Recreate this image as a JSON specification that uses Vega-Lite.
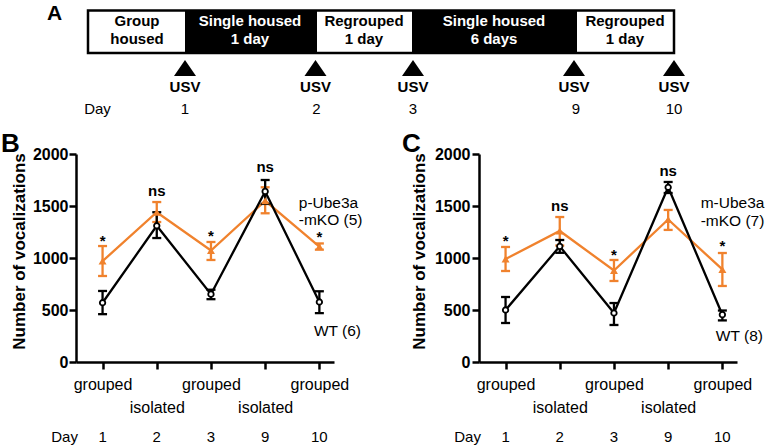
{
  "$schema": "https://vega.github.io/schema/vega-lite/v6.json",
  "background": "white",
  "padding": 0,
  "bounds": "flush",
  "spacing": 20,
  "config": {
    "view": {"stroke": null},
    "font": "Liberation Sans",
    "axis": {"domainColor": "black", "tickColor": "black", "labelColor": "black", "titleColor": "black", "domainWidth": 2.5, "tickWidth": 2.5, "tickSize": 7, "grid": false}
  },
  "datasets": {
    "segments": [
      {"phase": "Group housed", "l1": "Group", "l2": "housed", "housing": "group", "start": 0, "end": 97, "mid": 49},
      {"phase": "Single housed 1 day", "l1": "Single housed", "l2": "1 day", "housing": "single", "start": 97, "end": 229, "mid": 162},
      {"phase": "Regrouped 1 day", "l1": "Regrouped", "l2": "1 day", "housing": "group", "start": 229, "end": 324, "mid": 276},
      {"phase": "Single housed 6 days", "l1": "Single housed", "l2": "6 days", "housing": "single", "start": 324, "end": 489, "mid": 406},
      {"phase": "Regrouped 1 day", "l1": "Regrouped", "l2": "1 day", "housing": "group", "start": 489, "end": 586, "mid": 537}
    ],
    "events": [
      {"day": "1", "pos": 97},
      {"day": "2", "pos": 227.5},
      {"day": "3", "pos": 325},
      {"day": "9", "pos": 486},
      {"day": "10", "pos": 586}
    ],
    "a_days": [
      {"label": "Day", "pos": 9.5},
      {"label": "1", "pos": 97},
      {"label": "2", "pos": 228.5},
      {"label": "3", "pos": 325},
      {"label": "9", "pos": 488},
      {"label": "10", "pos": 586}
    ],
    "a_panel": [{"label": "A", "pos": -41, "y": 19.5}],
    "b_panel": [{"label": "B", "pos": -0.874, "y": 2019}],
    "c_panel": [{"label": "C", "pos": -0.911, "y": 2019}],
    "b_data": [
      {"pos": 1, "day": 1, "geno": "WT", "mean": 570, "lo": 460, "hi": 683},
      {"pos": 2, "day": 2, "geno": "WT", "mean": 1310, "lo": 1192, "hi": 1440},
      {"pos": 3, "day": 3, "geno": "WT", "mean": 652, "lo": 604, "hi": 695},
      {"pos": 4, "day": 9, "geno": "WT", "mean": 1640, "lo": 1520, "hi": 1750},
      {"pos": 5, "day": 10, "geno": "WT", "mean": 577, "lo": 470, "hi": 680},
      {"pos": 1, "day": 1, "geno": "KO", "mean": 970, "lo": 827, "hi": 1115},
      {"pos": 2, "day": 2, "geno": "KO", "mean": 1440, "lo": 1346, "hi": 1538},
      {"pos": 3, "day": 3, "geno": "KO", "mean": 1072, "lo": 981, "hi": 1154},
      {"pos": 4, "day": 9, "geno": "KO", "mean": 1550, "lo": 1430, "hi": 1680},
      {"pos": 5, "day": 10, "geno": "KO", "mean": 1110, "lo": 1080, "hi": 1140}
    ],
    "b_sig": [
      {"pos": 1, "y": 1166, "label": "*"},
      {"pos": 2, "y": 1644, "label": "ns"},
      {"pos": 3, "y": 1214, "label": "*"},
      {"pos": 4, "y": 1875, "label": "ns"},
      {"pos": 5, "y": 1205, "label": "*"}
    ],
    "b_legend": [
      {"pos": 4.62, "y": 1529, "label": "p-Ube3a"},
      {"pos": 4.62, "y": 1365, "label": "-mKO (5)"},
      {"pos": 4.9, "y": 298, "label": "WT (6)"}
    ],
    "c_data": [
      {"pos": 1, "day": 1, "geno": "WT", "mean": 500, "lo": 375, "hi": 625},
      {"pos": 2, "day": 2, "geno": "WT", "mean": 1112, "lo": 1050, "hi": 1173},
      {"pos": 3, "day": 3, "geno": "WT", "mean": 471, "lo": 356, "hi": 567},
      {"pos": 4, "day": 9, "geno": "WT", "mean": 1680, "lo": 1625, "hi": 1731},
      {"pos": 5, "day": 10, "geno": "WT", "mean": 455, "lo": 400, "hi": 495},
      {"pos": 1, "day": 1, "geno": "KO", "mean": 990, "lo": 875, "hi": 1106},
      {"pos": 2, "day": 2, "geno": "KO", "mean": 1260, "lo": 1120, "hi": 1394},
      {"pos": 3, "day": 3, "geno": "KO", "mean": 880, "lo": 779, "hi": 981},
      {"pos": 4, "day": 9, "geno": "KO", "mean": 1370, "lo": 1270, "hi": 1462},
      {"pos": 5, "day": 10, "geno": "KO", "mean": 890, "lo": 731, "hi": 1048}
    ],
    "c_sig": [
      {"pos": 1, "y": 1166, "label": "*"},
      {"pos": 2, "y": 1500, "label": "ns"},
      {"pos": 3, "y": 1032, "label": "*"},
      {"pos": 4, "y": 1837, "label": "ns"},
      {"pos": 5, "y": 1118, "label": "*"}
    ],
    "c_legend": [
      {"pos": 4.6, "y": 1529, "label": "m-Ube3a"},
      {"pos": 4.6, "y": 1356, "label": "-mKO (7)"},
      {"pos": 4.88, "y": 250, "label": "WT (8)"}
    ],
    "days": [
      {"pos": 0.3, "label": "Day"},
      {"pos": 1, "label": "1"},
      {"pos": 2, "label": "2"},
      {"pos": 3, "label": "3"},
      {"pos": 4, "label": "9"},
      {"pos": 5, "label": "10"}
    ]
  },
  "vconcat": [
    {
      "width": 612,
      "height": 134,
      "resolve": {"scale": {"fill": "independent", "color": "independent"}},
      "layer": [
        {
          "data": {"name": "segments"},
          "mark": {"type": "rect"},
          "encoding": {
            "x": {"field": "start", "type": "quantitative", "scale": {"domain": [-12, 600], "nice": false, "zero": false}, "axis": null},
            "x2": {"field": "end"},
            "y": {"datum": 10.5, "type": "quantitative", "scale": {"domain": [0, 134], "reverse": true, "nice": false, "zero": false}, "axis": null},
            "y2": {"datum": 53},
            "fill": {"field": "housing", "type": "nominal", "scale": {"domain": ["group", "single"], "range": ["white", "black"]}, "legend": null}
          }
        },
        {
          "data": {"name": "segments"},
          "mark": {"type": "rect", "filled": false, "color": "black", "strokeWidth": 2.5},
          "encoding": {
            "x": {"aggregate": "min", "field": "start", "type": "quantitative", "axis": null},
            "x2": {"aggregate": "max", "field": "end"},
            "y": {"datum": 10.5, "type": "quantitative", "axis": null},
            "y2": {"datum": 53}
          }
        },
        {
          "data": {"name": "segments"},
          "mark": {"type": "text", "fontSize": 15, "fontWeight": "bold", "align": "center", "baseline": "middle"},
          "encoding": {
            "x": {"field": "mid", "type": "quantitative", "axis": null},
            "y": {"datum": 21, "type": "quantitative", "axis": null},
            "text": {"field": "l1"},
            "color": {"field": "housing", "type": "nominal", "scale": {"domain": ["group", "single"], "range": ["black", "white"]}, "legend": null}
          }
        },
        {
          "data": {"name": "segments"},
          "mark": {"type": "text", "fontSize": 15, "fontWeight": "bold", "align": "center", "baseline": "middle"},
          "encoding": {
            "x": {"field": "mid", "type": "quantitative", "axis": null},
            "y": {"datum": 38.5, "type": "quantitative", "axis": null},
            "text": {"field": "l2"},
            "color": {"field": "housing", "type": "nominal", "scale": {"domain": ["group", "single"], "range": ["black", "white"]}, "legend": null}
          }
        },
        {
          "data": {"name": "events"},
          "mark": {"type": "point", "shape": "M0,-0.73L1,0.73L-1,0.73Z", "size": 484, "filled": true, "color": "black", "opacity": 1, "strokeWidth": 0},
          "encoding": {
            "x": {"field": "pos", "type": "quantitative", "axis": null},
            "y": {"datum": 68, "type": "quantitative", "axis": null}
          }
        },
        {
          "data": {"name": "events"},
          "mark": {"type": "text", "text": "USV", "fontSize": 15, "fontWeight": "bold", "align": "center", "baseline": "middle", "color": "black"},
          "encoding": {
            "x": {"field": "pos", "type": "quantitative", "axis": null},
            "y": {"datum": 86.5, "type": "quantitative", "axis": null}
          }
        },
        {
          "data": {"name": "a_days"},
          "mark": {"type": "text", "fontSize": 15, "align": "center", "baseline": "middle", "color": "black"},
          "encoding": {
            "x": {"field": "pos", "type": "quantitative", "axis": null},
            "y": {"datum": 108.5, "type": "quantitative", "axis": null},
            "text": {"field": "label"}
          }
        },
        {
          "data": {"name": "a_panel"},
          "mark": {"type": "text", "fontSize": 21, "fontWeight": "bold", "align": "left", "baseline": "alphabetic", "color": "black"},
          "encoding": {
            "x": {"field": "pos", "type": "quantitative", "axis": null},
            "y": {"field": "y", "type": "quantitative", "axis": null},
            "text": {"field": "label"}
          }
        }
      ]
    },
    {
      "hconcat": [
        {
          "width": 258,
          "height": 208,
          "layer": [
            {
              "data": {"name": "b_data"},
              "transform": [{"filter": "datum.geno == 'KO'"}],
              "mark": {"type": "rule", "color": "#F0822D", "strokeWidth": 2.3},
              "encoding": {
                "x": {"field": "pos", "type": "quantitative", "scale": {"domain": [0.51, 5.27], "nice": false, "zero": false},
                  "axis": {"values": [1, 2, 3, 4, 5], "title": null, "labelExpr": "datum.value % 2 == 1 ? 'grouped' : ['', 'isolated']", "labelLineHeight": 23, "labelFontSize": 16, "labelFontWeight": "normal", "labelPadding": 7, "labelOverlap": false, "labelBound": false, "labelFlush": false, "labelAngle": 0}},
                "y": {"field": "lo", "type": "quantitative", "scale": {"domain": [0, 2000], "nice": false},
                  "axis": {"values": [0, 500, 1000, 1500, 2000], "format": "d", "title": "Number of vocalizations", "titleFontSize": 17, "titleFontWeight": "bold", "titlePadding": 4, "titleY": 97, "labelFontSize": 16, "labelFontWeight": "bold", "labelPadding": 1}},
                "y2": {"field": "hi"}
              }
            },
            {
              "data": {"name": "b_data"},
              "transform": [{"filter": "datum.geno == 'KO'"}],
              "mark": {"type": "tick", "orient": "horizontal", "color": "#F0822D", "size": 9, "thickness": 2.3, "opacity": 1},
              "encoding": {"x": {"field": "pos", "type": "quantitative"}, "y": {"field": "lo", "type": "quantitative"}}
            },
            {
              "data": {"name": "b_data"},
              "transform": [{"filter": "datum.geno == 'KO'"}],
              "mark": {"type": "tick", "orient": "horizontal", "color": "#F0822D", "size": 9, "thickness": 2.3, "opacity": 1},
              "encoding": {"x": {"field": "pos", "type": "quantitative"}, "y": {"field": "hi", "type": "quantitative"}}
            },
            {
              "data": {"name": "b_data"},
              "transform": [{"filter": "datum.geno == 'KO'"}],
              "mark": {"type": "line", "color": "#F0822D", "strokeWidth": 2.3},
              "encoding": {"x": {"field": "pos", "type": "quantitative"}, "y": {"field": "mean", "type": "quantitative"}}
            },
            {
              "data": {"name": "b_data"},
              "transform": [{"filter": "datum.geno == 'WT'"}],
              "mark": {"type": "rule", "color": "black", "strokeWidth": 2.3},
              "encoding": {"x": {"field": "pos", "type": "quantitative"}, "y": {"field": "lo", "type": "quantitative"}, "y2": {"field": "hi"}}
            },
            {
              "data": {"name": "b_data"},
              "transform": [{"filter": "datum.geno == 'WT'"}],
              "mark": {"type": "tick", "orient": "horizontal", "color": "black", "size": 9, "thickness": 2.3, "opacity": 1},
              "encoding": {"x": {"field": "pos", "type": "quantitative"}, "y": {"field": "lo", "type": "quantitative"}}
            },
            {
              "data": {"name": "b_data"},
              "transform": [{"filter": "datum.geno == 'WT'"}],
              "mark": {"type": "tick", "orient": "horizontal", "color": "black", "size": 9, "thickness": 2.3, "opacity": 1},
              "encoding": {"x": {"field": "pos", "type": "quantitative"}, "y": {"field": "hi", "type": "quantitative"}}
            },
            {
              "data": {"name": "b_data"},
              "transform": [{"filter": "datum.geno == 'WT'"}],
              "mark": {"type": "line", "color": "black", "strokeWidth": 2.3},
              "encoding": {"x": {"field": "pos", "type": "quantitative"}, "y": {"field": "mean", "type": "quantitative"}}
            },
            {
              "data": {"name": "b_data"},
              "transform": [{"filter": "datum.geno == 'WT'"}],
              "mark": {"type": "point", "shape": "circle", "size": 30, "filled": true, "fill": "white", "stroke": "black", "strokeWidth": 1.8, "opacity": 1},
              "encoding": {"x": {"field": "pos", "type": "quantitative"}, "y": {"field": "mean", "type": "quantitative"}}
            },
            {
              "data": {"name": "b_data"},
              "transform": [{"filter": "datum.geno == 'KO'"}],
              "mark": {"type": "point", "shape": "triangle-up", "size": 64, "filled": true, "color": "#F0822D", "opacity": 1},
              "encoding": {"x": {"field": "pos", "type": "quantitative"}, "y": {"field": "mean", "type": "quantitative"}}
            },
            {
              "data": {"name": "b_sig"},
              "mark": {"type": "text", "fontSize": 15, "fontWeight": "bold", "align": "center", "baseline": "middle", "color": "black"},
              "encoding": {"x": {"field": "pos", "type": "quantitative"}, "y": {"field": "y", "type": "quantitative"}, "text": {"field": "label"}}
            },
            {
              "data": {"name": "b_legend"},
              "mark": {"type": "text", "fontSize": 15.5, "align": "left", "baseline": "middle", "color": "black"},
              "encoding": {"x": {"field": "pos", "type": "quantitative"}, "y": {"field": "y", "type": "quantitative"}, "text": {"field": "label"}}
            },
            {
              "data": {"name": "days"},
              "mark": {"type": "text", "fontSize": 15, "align": "center", "baseline": "alphabetic", "yOffset": 80.4, "color": "black"},
              "encoding": {"x": {"field": "pos", "type": "quantitative"}, "y": {"datum": 0, "type": "quantitative"}, "text": {"field": "label"}}
            },
            {
              "data": {"name": "b_panel"},
              "mark": {"type": "text", "fontSize": 26, "fontWeight": "bold", "align": "left", "baseline": "alphabetic", "color": "black"},
              "encoding": {"x": {"field": "pos", "type": "quantitative"}, "y": {"field": "y", "type": "quantitative"}, "text": {"field": "label"}}
            }
          ]
        },
        {
          "width": 258,
          "height": 208,
          "layer": [
            {
              "data": {"name": "c_data"},
              "transform": [{"filter": "datum.geno == 'KO'"}],
              "mark": {"type": "rule", "color": "#F0822D", "strokeWidth": 2.3},
              "encoding": {
                "x": {"field": "pos", "type": "quantitative", "scale": {"domain": [0.51, 5.27], "nice": false, "zero": false},
                  "axis": {"values": [1, 2, 3, 4, 5], "title": null, "labelExpr": "datum.value % 2 == 1 ? 'grouped' : ['', 'isolated']", "labelLineHeight": 23, "labelFontSize": 16, "labelFontWeight": "normal", "labelPadding": 7, "labelOverlap": false, "labelBound": false, "labelFlush": false, "labelAngle": 0}},
                "y": {"field": "lo", "type": "quantitative", "scale": {"domain": [0, 2000], "nice": false},
                  "axis": {"values": [0, 500, 1000, 1500, 2000], "format": "d", "title": "Number of vocalizations", "titleFontSize": 17, "titleFontWeight": "bold", "titlePadding": 6, "titleY": 97, "labelFontSize": 16, "labelFontWeight": "bold", "labelPadding": 2}},
                "y2": {"field": "hi"}
              }
            },
            {
              "data": {"name": "c_data"},
              "transform": [{"filter": "datum.geno == 'KO'"}],
              "mark": {"type": "tick", "orient": "horizontal", "color": "#F0822D", "size": 9, "thickness": 2.3, "opacity": 1},
              "encoding": {"x": {"field": "pos", "type": "quantitative"}, "y": {"field": "lo", "type": "quantitative"}}
            },
            {
              "data": {"name": "c_data"},
              "transform": [{"filter": "datum.geno == 'KO'"}],
              "mark": {"type": "tick", "orient": "horizontal", "color": "#F0822D", "size": 9, "thickness": 2.3, "opacity": 1},
              "encoding": {"x": {"field": "pos", "type": "quantitative"}, "y": {"field": "hi", "type": "quantitative"}}
            },
            {
              "data": {"name": "c_data"},
              "transform": [{"filter": "datum.geno == 'KO'"}],
              "mark": {"type": "line", "color": "#F0822D", "strokeWidth": 2.3},
              "encoding": {"x": {"field": "pos", "type": "quantitative"}, "y": {"field": "mean", "type": "quantitative"}}
            },
            {
              "data": {"name": "c_data"},
              "transform": [{"filter": "datum.geno == 'WT'"}],
              "mark": {"type": "rule", "color": "black", "strokeWidth": 2.3},
              "encoding": {"x": {"field": "pos", "type": "quantitative"}, "y": {"field": "lo", "type": "quantitative"}, "y2": {"field": "hi"}}
            },
            {
              "data": {"name": "c_data"},
              "transform": [{"filter": "datum.geno == 'WT'"}],
              "mark": {"type": "tick", "orient": "horizontal", "color": "black", "size": 9, "thickness": 2.3, "opacity": 1},
              "encoding": {"x": {"field": "pos", "type": "quantitative"}, "y": {"field": "lo", "type": "quantitative"}}
            },
            {
              "data": {"name": "c_data"},
              "transform": [{"filter": "datum.geno == 'WT'"}],
              "mark": {"type": "tick", "orient": "horizontal", "color": "black", "size": 9, "thickness": 2.3, "opacity": 1},
              "encoding": {"x": {"field": "pos", "type": "quantitative"}, "y": {"field": "hi", "type": "quantitative"}}
            },
            {
              "data": {"name": "c_data"},
              "transform": [{"filter": "datum.geno == 'WT'"}],
              "mark": {"type": "line", "color": "black", "strokeWidth": 2.3},
              "encoding": {"x": {"field": "pos", "type": "quantitative"}, "y": {"field": "mean", "type": "quantitative"}}
            },
            {
              "data": {"name": "c_data"},
              "transform": [{"filter": "datum.geno == 'WT'"}],
              "mark": {"type": "point", "shape": "circle", "size": 30, "filled": true, "fill": "white", "stroke": "black", "strokeWidth": 1.8, "opacity": 1},
              "encoding": {"x": {"field": "pos", "type": "quantitative"}, "y": {"field": "mean", "type": "quantitative"}}
            },
            {
              "data": {"name": "c_data"},
              "transform": [{"filter": "datum.geno == 'KO'"}],
              "mark": {"type": "point", "shape": "triangle-up", "size": 64, "filled": true, "color": "#F0822D", "opacity": 1},
              "encoding": {"x": {"field": "pos", "type": "quantitative"}, "y": {"field": "mean", "type": "quantitative"}}
            },
            {
              "data": {"name": "c_sig"},
              "mark": {"type": "text", "fontSize": 15, "fontWeight": "bold", "align": "center", "baseline": "middle", "color": "black"},
              "encoding": {"x": {"field": "pos", "type": "quantitative"}, "y": {"field": "y", "type": "quantitative"}, "text": {"field": "label"}}
            },
            {
              "data": {"name": "c_legend"},
              "mark": {"type": "text", "fontSize": 15.5, "align": "left", "baseline": "middle", "color": "black"},
              "encoding": {"x": {"field": "pos", "type": "quantitative"}, "y": {"field": "y", "type": "quantitative"}, "text": {"field": "label"}}
            },
            {
              "data": {"name": "days"},
              "mark": {"type": "text", "fontSize": 15, "align": "center", "baseline": "alphabetic", "yOffset": 80.4, "color": "black"},
              "encoding": {"x": {"field": "pos", "type": "quantitative"}, "y": {"datum": 0, "type": "quantitative"}, "text": {"field": "label"}}
            },
            {
              "data": {"name": "c_panel"},
              "mark": {"type": "text", "fontSize": 26, "fontWeight": "bold", "align": "left", "baseline": "alphabetic", "color": "black"},
              "encoding": {"x": {"field": "pos", "type": "quantitative"}, "y": {"field": "y", "type": "quantitative"}, "text": {"field": "label"}}
            }
          ]
        }
      ],
      "spacing": 145,
      "bounds": "flush"
    }
  ]
}
